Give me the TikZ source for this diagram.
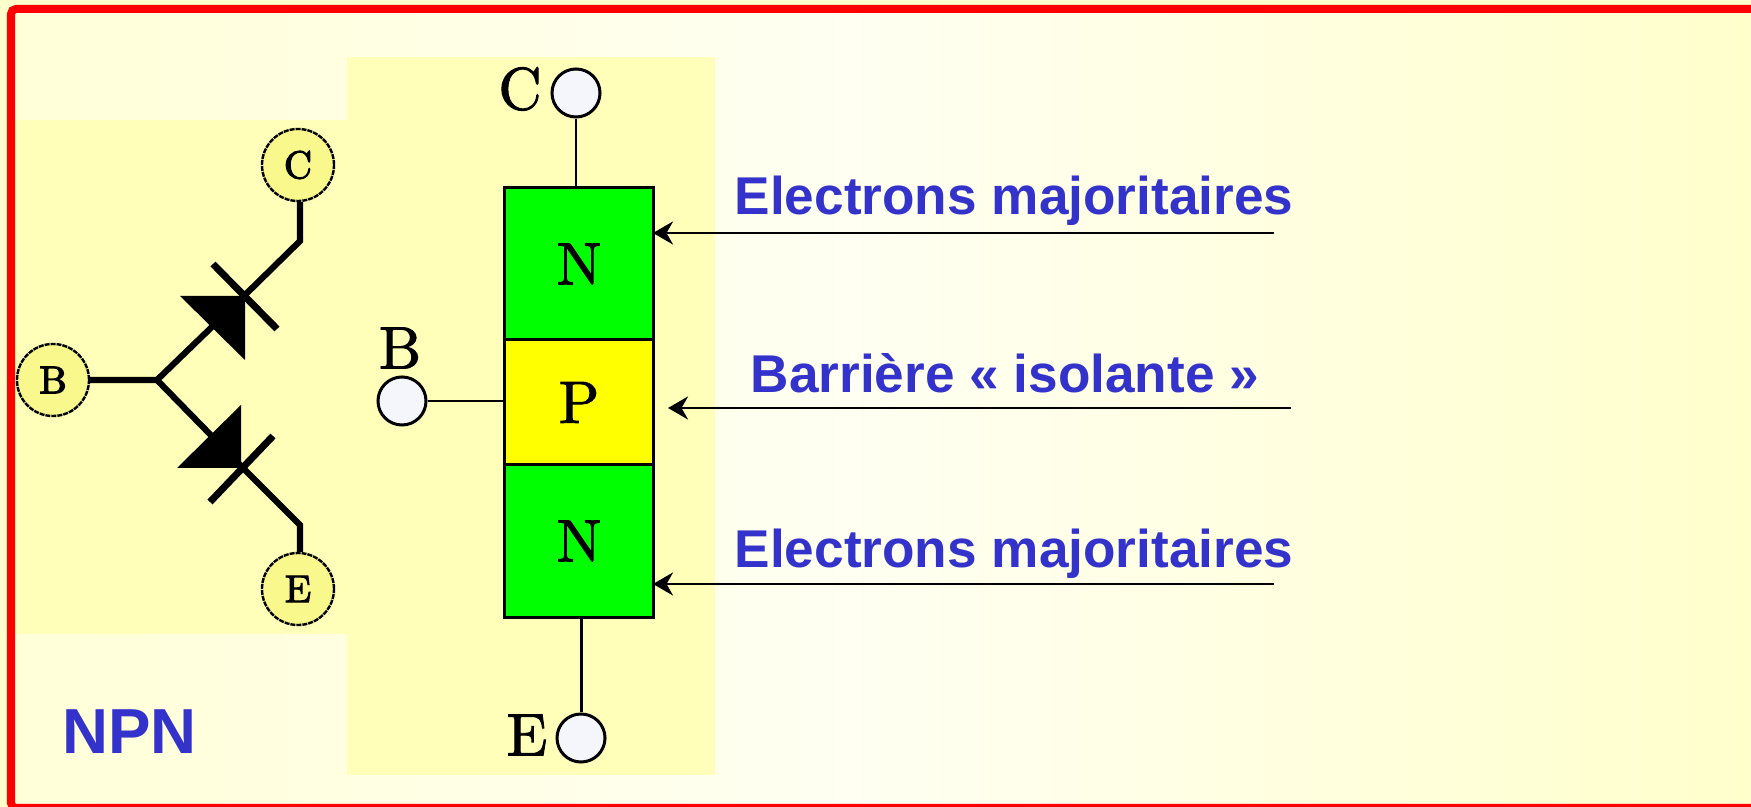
\documentclass[tikz,border=0pt]{standalone}
\usepackage{fontspec}
\setmainfont{Latin Modern Roman}
\newfontfamily\arialfont{Liberation Sans}
\newfontfamily\heavyfont{lmroman10-regular.otf}[FakeBold=1.6]
\newfontfamily\symfont{lmroman10-regular.otf}[FakeBold=3]
\usetikzlibrary{arrows.meta}
\definecolor{pagecream}{HTML}{FFFFCC}
\definecolor{leftcream}{HTML}{FFFFD8}
\definecolor{palecream}{HTML}{FFFFF2}
\definecolor{patchcream}{HTML}{FFFFB9}
\definecolor{pinyellow}{HTML}{F8F88C}
\definecolor{pinwhite}{HTML}{F5F5FC}
\definecolor{labelblue}{HTML}{3333CC}
\definecolor{layergreen}{RGB}{0,255,0}
\definecolor{layeryellow}{RGB}{255,255,0}
\definecolor{framered}{RGB}{255,0,0}
\tikzset{
  leg/.style={line width=0.062cm, line join=miter},
  tinwire/.style={line width=0.027cm},
  pinsym/.style={circle, draw, fill=pinyellow, line width=0.024cm, dash pattern=on 0.05cm off 0.01cm,
    minimum size=0.72cm, inner sep=0pt, font=\symfont\fontsize{11}{11}\selectfont},
  pinlayer/.style={circle, draw, fill=pinwhite, line width=0.03cm, minimum size=0.48cm, inner sep=0pt},
  layer/.style={rectangle, draw, line width=0.03cm, minimum width=1.48cm, inner sep=0pt, outer sep=0pt,
    font=\heavyfont\fontsize{17}{17}\selectfont},
  bigletter/.style={font=\heavyfont\fontsize{17}{17}\selectfont, inner sep=0pt},
  note/.style={font=\arialfont\bfseries\fontsize{15.12}{15.12}\selectfont, text=labelblue, inner sep=0pt, anchor=base},
  pointer/.style={-{Stealth[length=0.2cm, width=0.23cm]}, line width=0.027cm},
}
\begin{document}
\begin{tikzpicture}[x=0.01cm, y=-0.01cm]
  \useasboundingbox (0,0) rectangle (1751,807);

  % -- Page and red frame --
  \fill[pagecream] (0,0) rectangle (1751,807);
  \shade[left color=leftcream, right color=palecream] (11,8) rectangle (850,808);
  \shade[left color=palecream, right color=pagecream] (850,8) rectangle (1751,808);
  \fill[patchcream] (14,120) rectangle (347,634);
  \fill[patchcream] (347,57) rectangle (715,775);
  \draw[framered, line width=0.08cm, rounded corners=0.05cm] (11,9) rectangle (1780,808);

  % -- Symbol pins --
  \node[pinsym] (symC) at (298,165) {C};
  \node[pinsym] (symB) at (53,380) {B};
  \node[pinsym] (symE) at (298,589) {E};

  % -- Symbol legs --
  \coordinate (fork) at (157,380);
  \coordinate (barC) at (245,295);
  \coordinate (barE) at (243,468);
  \coordinate (kneeC) at (300,241);
  \coordinate (kneeE) at (300,525);
  \draw[leg] (symB) -- (fork) -- (barC) -- (kneeC) -- (kneeC |- symC.south);
  \draw[leg] (fork) -- (barE) -- (kneeE) -- (kneeE |- symE.north);

  % -- Upper diode --
  \fill (180,296) -- (245,296) -- (245,360) -- cycle;
  \draw[line width=0.07cm] (213,264) -- (277,329);

  % -- Lower diode --
  \fill (177,468) -- (241,468) -- (241,405) -- cycle;
  \draw[line width=0.07cm] (273,436) -- (210,502);

  % -- Layers --
  \node[layer, fill=layergreen, minimum height=1.52cm] (topN) at (579,264) {N};
  \node[layer, fill=layeryellow, minimum height=1.25cm] (midP) at (579,402.5) {P};
  \node[layer, fill=layergreen, minimum height=1.52cm] (lowN) at (579,541) {N};

  % -- Layer pins --
  \node[pinlayer] (pinC) at (576,93) {};
  \node[pinlayer] (pinB) at (402,401) {};
  \node[pinlayer] (pinE) at (581,738) {};
  \node[bigletter] (textC) at (520,89) {C};
  \node[bigletter] (textB) at (400,348) {B};
  \node[bigletter] (textE) at (527,735) {E};
  \draw[tinwire] (pinC) -- (pinC |- topN.north);
  \draw[tinwire] (pinB) -- (pinB -| midP.west);
  \draw[line width=0.03cm] (pinE) -- (pinE |- lowN.south);

  % -- Notes --
  \node[note] (noteTop) at (1014,215) {Electrons majoritaires};
  \node[note] (noteMid) at (1005,393) {Barrière « isolante »};
  \node[note] (noteLow) at (1014,568) {Electrons majoritaires};
  \node[note, font=\arialfont\bfseries\fontsize{18.1}{18.1}\selectfont] (npn) at (129.5,754) {NPN};

  % -- Pointers --
  \coordinate (tailTop) at (1274,233);
  \coordinate (tipTop) at (653,233);
  \coordinate (tailMid) at (1291,408);
  \coordinate (tipMid) at (668,408);
  \coordinate (tailLow) at (1274,584);
  \coordinate (tipLow) at (653,584);
  \draw[pointer] (tailTop) -- (tipTop);
  \draw[pointer] (tailMid) -- (tipMid);
  \draw[pointer] (tailLow) -- (tipLow);

\end{tikzpicture}
\end{document}
